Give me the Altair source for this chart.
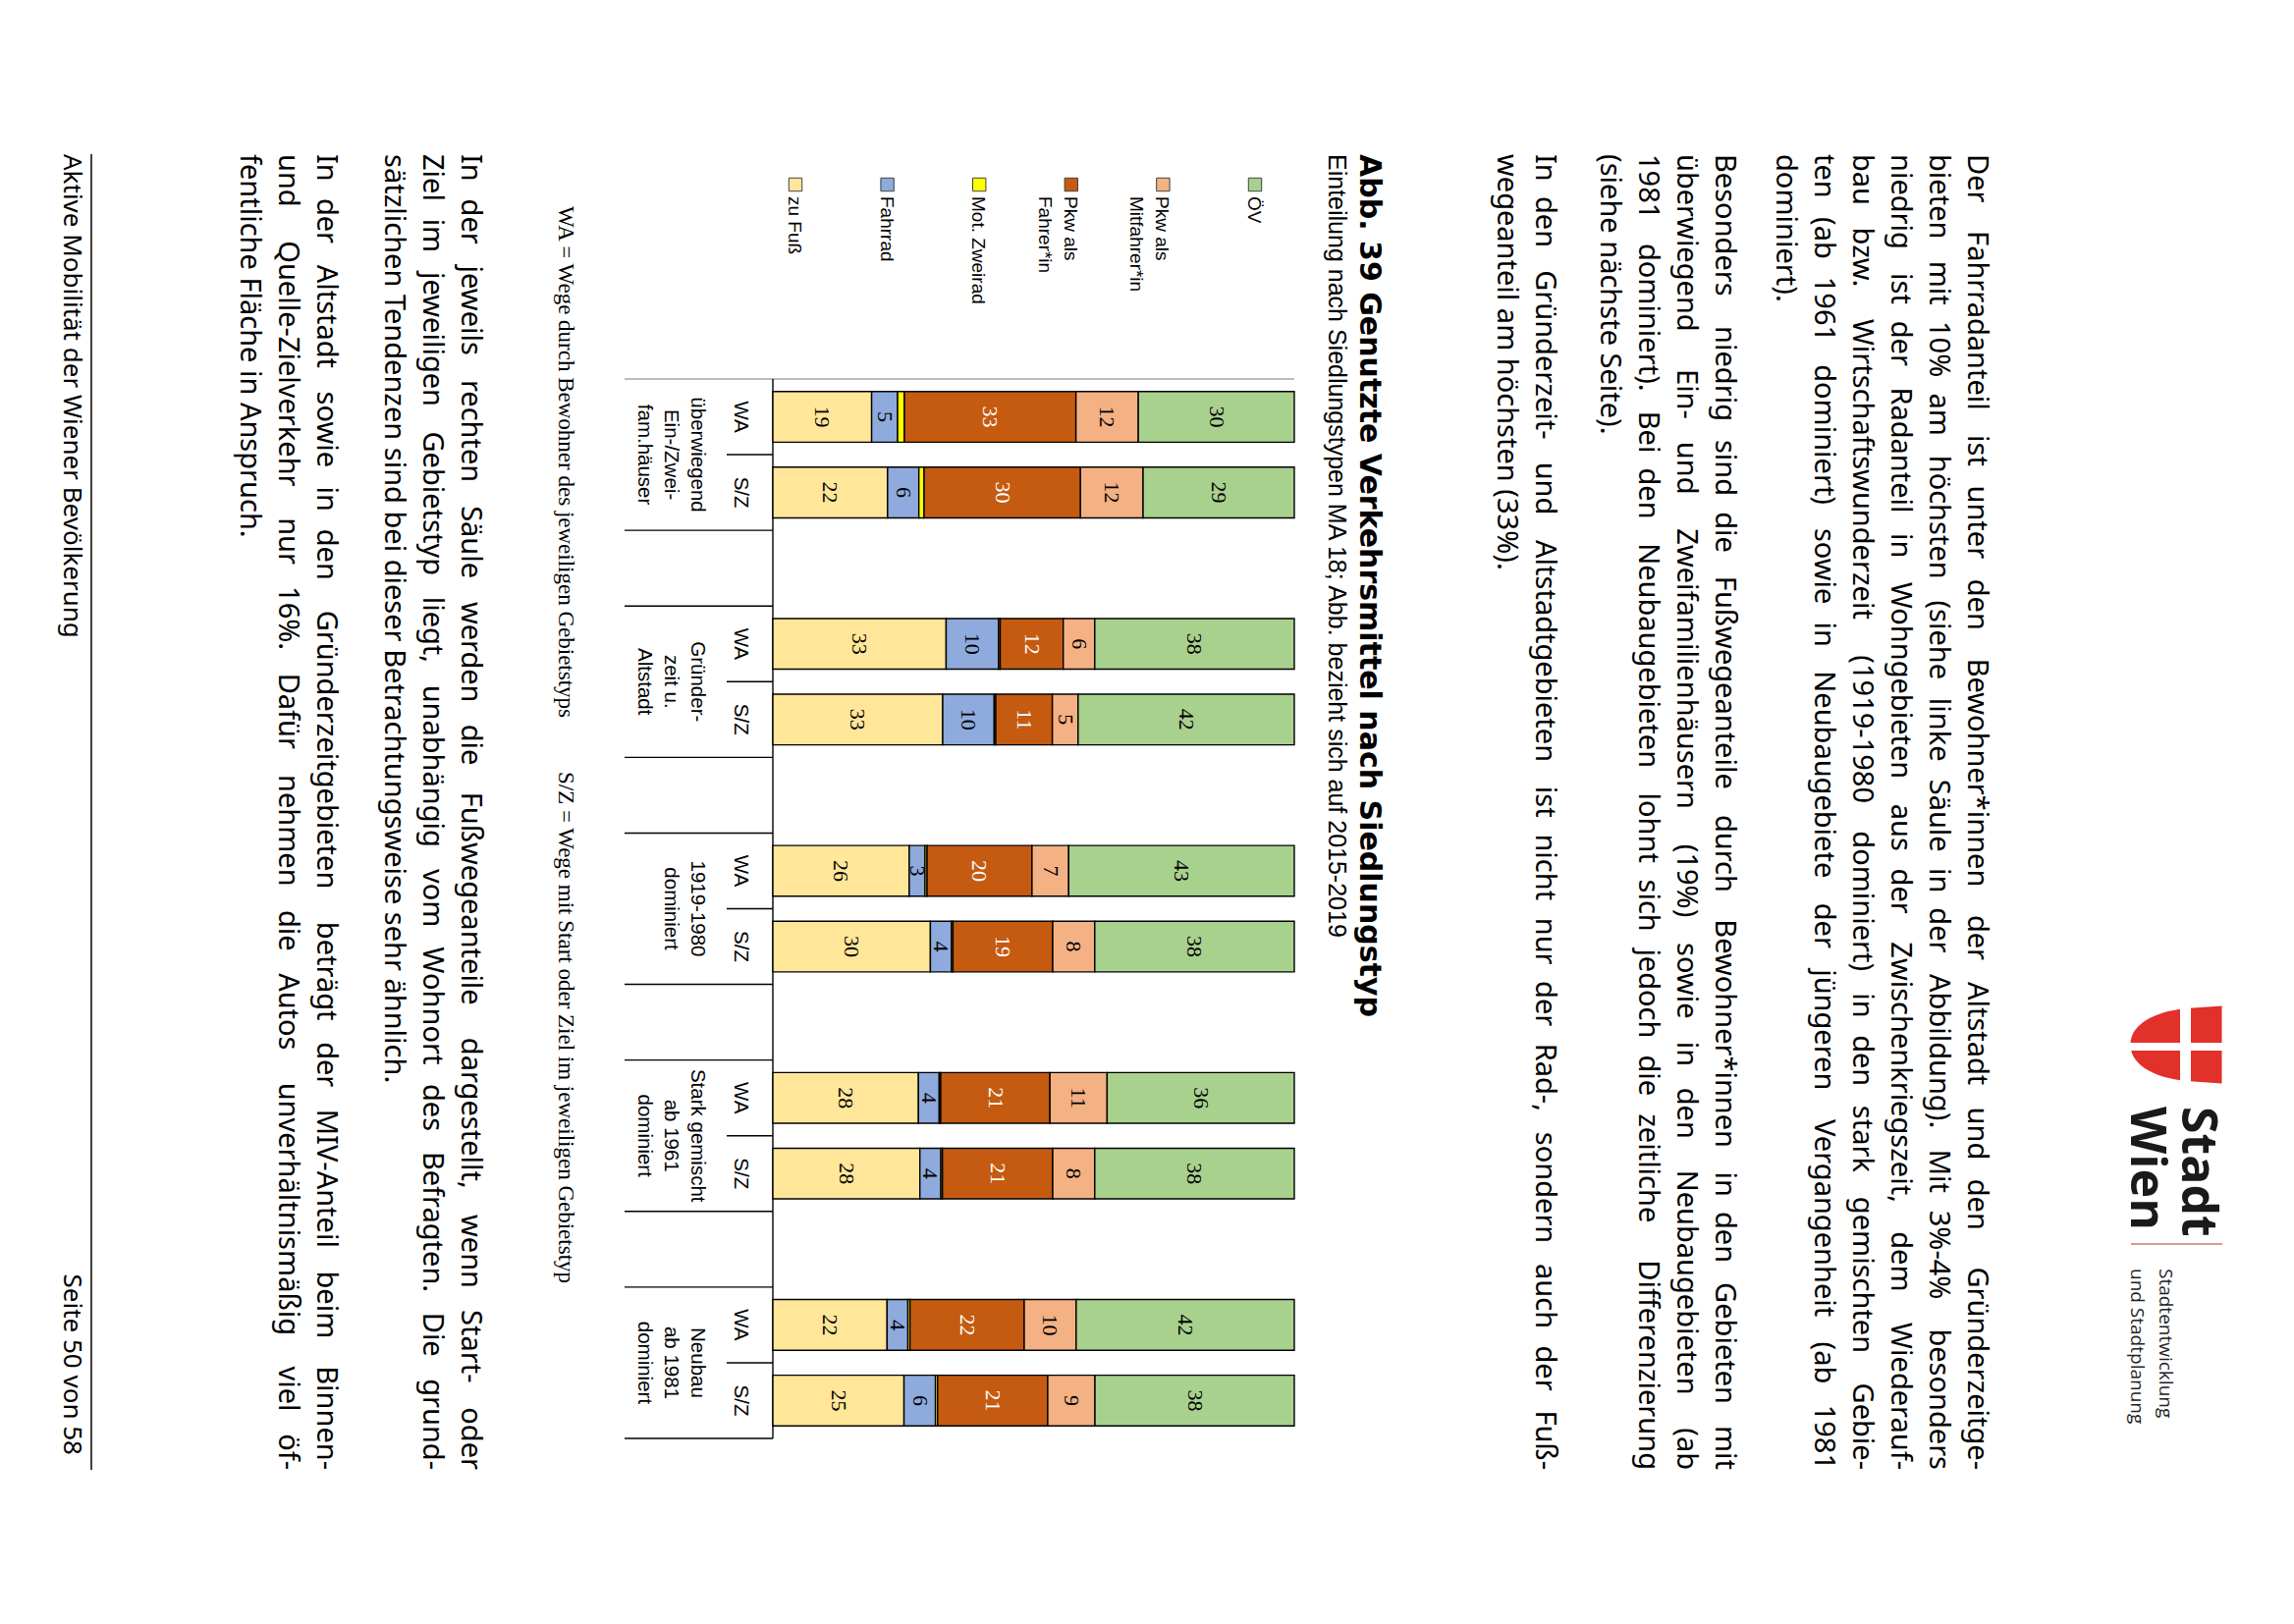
import altair as alt
import pandas as pd

# ---------------- data ----------------
modes = ["zu Fuß", "Fahrrad", "Mot. Zweirad", "Pkw als Fahrer*in", "Pkw als Mitfahrer*in", "ÖV"]
mode_colors = ["#FFE699", "#8FAADC", "#FFFF00", "#C55A11", "#F4B183", "#A9D18E"]
legend_order = ["ÖV", "Pkw als Mitfahrer*in", "Pkw als Fahrer*in", "Mot. Zweirad", "Fahrrad", "zu Fuß"]
legend_lines = [["ÖV"], ["Pkw als", "Mitfahrer*in"], ["Pkw als", "Fahrer*in"], ["Mot. Zweirad"], ["Fahrrad"], ["zu Fuß"]]

group_labels = [["überwiegend", "Ein-/Zwei-", "fam.häuser"],
                ["Gründer-", "zeit u.", "Altstadt"],
                ["1919-1980", "dominiert"],
                ["Stark gemischt", "ab 1961", "dominiert"],
                ["Neubau", "ab 1981", "dominiert"]]
trip_types = ["WA", "S/Z"]

# one value per bar: G1 WA, G1 S/Z, G2 WA, G2 S/Z, ...
zu_fuss = [19, 22, 33, 33, 26, 30, 28, 28, 22, 25]
fahrrad = [5, 6, 10, 10, 3, 4, 4, 4, 4, 6]
mot_zweirad = [1.3, 1.0, 0.3, 0.3, 0.4, 0.3, 0.3, 0.3, 0.4, 0.4]
pkw_fahrer = [33, 30, 12, 11, 20, 19, 21, 21, 22, 21]
pkw_mitfahrer = [12, 12, 6, 5, 7, 8, 11, 8, 10, 9]
oev = [30, 29, 38, 42, 43, 38, 36, 38, 42, 38]

title = "Abb. 39 Genutzte Verkehrsmittel nach Siedlungstyp"
subtitle = "Einteilung nach Siedlungstypen MA 18; Abb. bezieht sich auf 2015-2019"
note_wa = "WA = Wege durch Bewohner des jeweiligen Gebietstyps"
note_sz = "S/Z = Wege mit Start oder Ziel im jeweiligen Gebietstyp"

para1 = ["Der Fahrradanteil ist unter den Bewohner*innen der Altstadt und den Gründerzeitge-",
         "bieten mit 10% am höchsten (siehe linke Säule in der Abbildung). Mit 3%-4% besonders",
         "niedrig ist der Radanteil in Wohngebieten aus der Zwischenkriegszeit, dem Wiederauf-",
         "bau bzw. Wirtschaftswunderzeit (1919-1980 dominiert) in den stark gemischten Gebie-",
         "ten (ab 1961 dominiert) sowie in Neubaugebiete der jüngeren Vergangenheit (ab 1981",
         "dominiert)."]
para2 = ["Besonders niedrig sind die Fußwegeanteile durch Bewohner*innen in den Gebieten mit",
         "überwiegend Ein- und Zweifamilienhäusern (19%) sowie in den Neubaugebieten (ab",
         "1981 dominiert). Bei den Neubaugebieten lohnt sich jedoch die zeitliche Differenzierung",
         "(siehe nächste Seite)."]
para3 = ["In den Gründerzeit- und Altstadtgebieten ist nicht nur der Rad-, sondern auch der Fuß-",
         "wegeanteil am höchsten (33%)."]
para4 = ["In der jeweils rechten Säule werden die Fußwegeanteile dargestellt, wenn Start- oder",
         "Ziel im jeweiligen Gebietstyp liegt, unabhängig vom Wohnort des Befragten. Die grund-",
         "sätzlichen Tendenzen sind bei dieser Betrachtungsweise sehr ähnlich."]
para5 = ["In der Altstadt sowie in den Gründerzeitgebieten beträgt der MIV-Anteil beim Binnen-",
         "und Quelle-Zielverkehr nur 16%. Dafür nehmen die Autos unverhältnismäßig viel öf-",
         "fentliche Fläche in Anspruch."]
footer_left = "Aktive Mobilität der Wiener Bevölkerung"
footer_right = "Seite 50 von 58"
logo_name = ["Stadt", "Wien"]
logo_dept = ["Stadtentwicklung", "und Stadtplanung"]

# ---------------- layout helpers ----------------
OFF = 8
def px(v):
    return v - OFF

BODY = "Noto Sans"
ARIAL = "Liberation Sans"
NARROW = "Liberation Sans Narrow"
BODY_SIZE = 29
BODY_LH = 39
MARGIN_TOP, MARGIN_BOTTOM = 157, 1497

# approximate advance widths (1/1000 em) used only to justify the body text
_adv = {' ': 260, 'a': 561, 'b': 615, 'c': 480, 'd': 615, 'e': 564, 'f': 344, 'g': 615, 'h': 618,
        'i': 258, 'j': 258, 'k': 534, 'l': 258, 'm': 935, 'n': 618, 'o': 605, 'p': 615, 'q': 615,
        'r': 413, 's': 479, 't': 361, 'u': 618, 'v': 508, 'w': 786, 'x': 529, 'y': 510, 'z': 470,
        'ä': 561, 'ö': 605, 'ü': 618, 'ß': 620, 'A': 639, 'B': 648, 'C': 631, 'D': 729, 'E': 556,
        'F': 516, 'G': 728, 'H': 738, 'I': 279, 'K': 613, 'L': 524, 'M': 907, 'N': 763, 'O': 783,
        'P': 602, 'Q': 783, 'R': 618, 'S': 549, 'T': 553, 'U': 729, 'V': 603, 'W': 928, 'Z': 580,
        '.': 268, ',': 268, '-': 322, '(': 303, ')': 303, '%': 823, '*': 551, ';': 268, '/': 371}
def est_em(s):
    return sum(_adv.get(c, 572 if c.isdigit() else 560) for c in s) / 1000.0

# calibration against the rendered length of the first body line (about 1336 px)
_k = 1336.0 / (BODY_SIZE * est_em(para1[0]))
_k = min(max(_k, 0.9), 1.1)
def est_px(s):
    return est_em(s) * BODY_SIZE * _k


def body_records(paras):
    recs = []
    for lines, first_base in paras:
        for li, line in enumerate(lines):
            bx = px(first_base - li * BODY_LH)
            if li == len(lines) - 1:
                recs.append({"w": line, "bx": bx, "yy": px(MARGIN_TOP), "role": "left"})
                continue
            words = line.split(" ")
            ws = [est_px(w) for w in words]
            gap = (MARGIN_BOTTOM - MARGIN_TOP - sum(ws)) / (len(words) - 1)
            pos = MARGIN_TOP
            for wi, (w, wpx) in enumerate(zip(words, ws)):
                if wi == 0:
                    recs.append({"w": w, "bx": bx, "yy": px(MARGIN_TOP), "role": "left"})
                elif wi == len(words) - 1:
                    recs.append({"w": w, "bx": bx, "yy": px(MARGIN_BOTTOM), "role": "right"})
                else:
                    recs.append({"w": w, "bx": bx, "yy": px(pos + wpx / 2), "role": "center"})
                pos += wpx + gap
    return recs


body_df = pd.DataFrame(body_records([(para1, 2004), (para2, 1747), (para3, 1564),
                                     (para4, 470), (para5, 323)]))

# ---------------- tables ----------------
series = [zu_fuss, fahrrad, mot_zweirad, pkw_fahrer, pkw_mitfahrer, oev]
slots = []
for gi in range(len(group_labels)):
    for t in trip_types:
        slots.append(f"G{gi + 1} {t}")
    if gi < len(group_labels) - 1:
        slots.append(f"Lücke {gi + 1}")
bar_slots = [s for s in slots if not s.startswith("Lücke")]

rows = []
for bi, s in enumerate(bar_slots):
    for mi, m in enumerate(modes):
        rows.append({"slot": s, "mode": m, "order": mi, "value": series[mi][bi]})
bars_df = pd.DataFrame(rows)

cat_df = pd.DataFrame({"slot": bar_slots, "trip": [s.split(" ", 1)[1] for s in bar_slots]})
group_vals = [{"slot": f"G{gi + 1} S/Z", "lines": lines} for gi, lines in enumerate(group_labels)]

short_ticks = pd.DataFrame({"slot": [s for s in slots if s.endswith("S/Z")]})
long_ticks = pd.DataFrame({"slot": [s for i, s in enumerate(slots) if i > 0 and not s.endswith("S/Z")]})
end_tick = pd.DataFrame({"slot": [slots[-1]]})

legend_vals = [{"mode": m, "lines": l} for m, l in zip(legend_order, legend_lines)]

xscale = alt.Scale(domain=[0, 1], range=[px(787), px(1318)], nice=False, zero=False)
yscale = alt.Scale(domain=slots, range=[px(386), px(1465)], paddingInner=0, paddingOuter=0)
cscale = alt.Scale(domain=modes, range=mode_colors)
lscale = alt.Scale(type="point", domain=legend_order, range=[px(1278), px(810)], padding=0)


def text_block(lines, xb, y0, size, font=BODY, weight="normal", align="left", lh=39, color="#000"):
    return alt.Chart(alt.Data(values=[{"t": lines}])).mark_text(
        angle=90, align=align, baseline="alphabetic", font=font, fontSize=size,
        fontWeight=weight, lineHeight=lh, color=color
    ).encode(x=alt.value(px(xb)), y=alt.value(px(y0)), text="t:N")


def body_layer(role):
    return alt.Chart(body_df).transform_filter(f"datum.role == '{role}'").mark_text(
        angle=90, align=role, baseline="alphabetic", font=BODY, fontSize=BODY_SIZE, color="#000"
    ).encode(x=alt.X("bx:Q", scale=None, axis=None), y=alt.Y("yy:Q", scale=None, axis=None), text="w:N")


stacked = alt.Chart(bars_df).transform_joinaggregate(
    total="sum(value)", groupby=["slot"]
).transform_calculate(
    frac="datum.value / datum.total"
).transform_stack(
    stack="frac", groupby=["slot"], as_=["x0", "x1"], sort=[alt.SortField("order", order="ascending")]
).transform_calculate(mid="(datum.x0 + datum.x1) / 2")

bars = stacked.mark_bar(height=alt.RelativeBandSize(0.67), stroke="#000", strokeWidth=1.4).encode(
    x=alt.X("x0:Q", scale=xscale, axis=None),
    x2="x1:Q",
    y=alt.Y("slot:N", scale=yscale, axis=None),
    color=alt.Color("mode:N", scale=cscale, legend=None),
)

bar_labels = stacked.transform_filter("datum.mode != 'Mot. Zweirad'").mark_text(
    angle=90, align="center", baseline="middle", font=NARROW, fontSize=22
).encode(
    x=alt.X("mid:Q", scale=xscale, axis=None),
    y=alt.Y("slot:N", scale=yscale, axis=None),
    text=alt.Text("value:Q", format=".0f"),
    color=alt.condition("datum.mode == 'Pkw als Fahrer*in'", alt.value("#ffffff"), alt.value("#000000")),
)

cat_labels = alt.Chart(cat_df).mark_text(
    angle=90, align="center", baseline="middle", font=ARIAL, fontSize=20.5
).encode(x=alt.value(px(754)), y=alt.Y("slot:N", scale=yscale, axis=None), text="trip:N")

grp_labels = alt.Chart(alt.Data(values=group_vals)).mark_text(
    angle=90, align="center", baseline="alphabetic", font=ARIAL, fontSize=20.5, lineHeight=27
).encode(x=alt.value(px(704)), y=alt.Y("slot:N", scale=yscale, axis=None, bandPosition=0), text="lines:N")

tick_short = alt.Chart(short_ticks).mark_rule(color="#000", strokeWidth=1.4).encode(
    x=alt.value(px(740)), x2=alt.value(px(787)), y=alt.Y("slot:N", scale=yscale, axis=None, bandPosition=0))
tick_long = alt.Chart(long_ticks).mark_rule(color="#000", strokeWidth=1.4).encode(
    x=alt.value(px(636)), x2=alt.value(px(787)), y=alt.Y("slot:N", scale=yscale, axis=None, bandPosition=0))
tick_end = alt.Chart(end_tick).mark_rule(color="#000", strokeWidth=1.4).encode(
    x=alt.value(px(636)), x2=alt.value(px(787)), y=alt.Y("slot:N", scale=yscale, axis=None, bandPosition=1))

axis_line = alt.Chart(alt.Data(values=[{}])).mark_rule(color="#000", strokeWidth=1.4).encode(
    x=alt.value(px(787)), y=alt.value(px(386)), y2=alt.value(px(1465)))
top_line = alt.Chart(alt.Data(values=[{}])).mark_rule(color="#a6a6a6", strokeWidth=1.4).encode(
    x=alt.value(px(636)), x2=alt.value(px(1318)), y=alt.value(px(386)))

leg_sq = alt.Chart(alt.Data(values=legend_vals)).mark_square(
    size=180, filled=True, opacity=1, stroke="#404040", strokeWidth=1
).encode(x=alt.X("mode:N", scale=lscale, axis=None), y=alt.value(px(188)),
         color=alt.Color("mode:N", scale=cscale, legend=None))
leg_txt = alt.Chart(alt.Data(values=legend_vals)).mark_text(
    angle=90, align="left", baseline="alphabetic", dy=7, font=ARIAL, fontSize=19, lineHeight=26
).encode(x=alt.X("mode:N", scale=lscale, axis=None), y=alt.value(px(200)), text="lines:N")

# logo
shield_path = ("M 1 -0.85 L 1 0.85 L 0.3 0.8 C -0.35 0.76 -1 0.5 -1 0 "
               "C -1 -0.5 -0.35 -0.76 0.3 -0.8 Z")
shield = alt.Chart(alt.Data(values=[{}])).mark_point(
    shape=shield_path, filled=True, color="#E2312B", size=8649, opacity=1, strokeWidth=0
).encode(x=alt.value(px(2216)), y=alt.value(px(1064)))
cross_v = alt.Chart(alt.Data(values=[{}])).mark_rect(color="#ffffff").encode(
    x=alt.value(px(2220)), x2=alt.value(px(2231)), y=alt.value(px(1015)), y2=alt.value(px(1115)))
cross_h = alt.Chart(alt.Data(values=[{}])).mark_rect(color="#ffffff").encode(
    x=alt.value(px(2160)), x2=alt.value(px(2270)), y=alt.value(px(1062)), y2=alt.value(px(1070)))
logo_line = alt.Chart(alt.Data(values=[{}])).mark_rule(color="#C8796B", strokeWidth=1.5).encode(
    x=alt.value(px(2170)), x2=alt.value(px(2263)), y=alt.value(px(1267)))
footer_line = alt.Chart(alt.Data(values=[{}])).mark_rule(color="#000", strokeWidth=1.5).encode(
    x=alt.value(px(93)), y=alt.value(px(157)), y2=alt.value(px(1497)))

layers = [
    body_layer("left"), body_layer("center"), body_layer("right"),
    text_block([title], 1385, 157, 30, font="DejaVu Sans", weight="bold"),
    text_block([subtitle], 1353, 157, 25, font=ARIAL),
    text_block([note_wa], 569, 210, 23, font=NARROW),
    text_block([note_sz], 569, 786, 23, font=NARROW),
    text_block([footer_left], 65, 157, 26),
    text_block([footer_right], 65, 1482, 26, align="right"),
    text_block(logo_name, 2222, 1127, 50, font="Open Sans", weight="bold", lh=52, color="#1a1a1a"),
    text_block(logo_dept, 2199, 1292, 19, font="Open Sans", lh=29, color="#222"),
    footer_line, logo_line, shield, cross_v, cross_h,
    top_line, axis_line, tick_short, tick_long, tick_end,
    bars, bar_labels, cat_labels, grp_labels, leg_sq, leg_txt,
]

chart = alt.layer(*layers).resolve_scale(x="independent").properties(
    width=2320, height=1638, padding=0, autosize=alt.AutoSizeParams(type="none"), background="white"
).configure_view(strokeWidth=0)

chart.save("out.html", embed_options={"renderer": "svg", "actions": False})
